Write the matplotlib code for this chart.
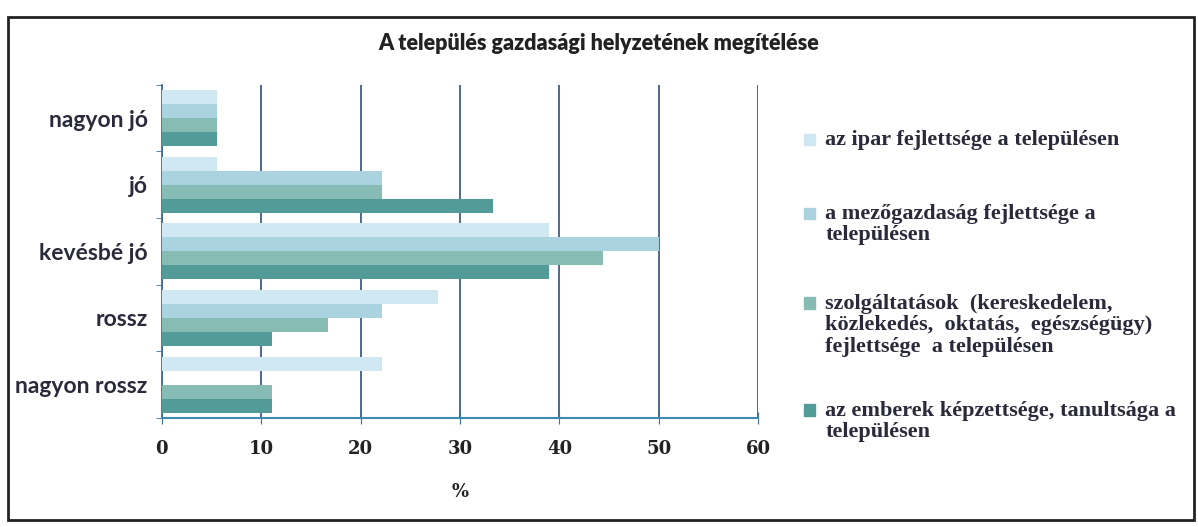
import matplotlib.pyplot as plt
from matplotlib.patches import Rectangle
import numpy as np

# adatok (18 válaszadó, %)
categories = ['nagyon jó', 'jó', 'kevésbé jó', 'rossz', 'nagyon rossz']
series_names = [
    'az ipar fejlettsége a településen',
    'a mezőgazdaság fejlettsége a\ntelepülésen',
    'szolgáltatások  (kereskedelem,\nközlekedés,  oktatás,  egészségügy)\nfejlettsége  a településen',
    'az emberek képzettsége, tanultsága a\ntelepülésen',
]
ipar = [5.6, 5.6, 38.9, 27.8, 22.2]
mezogazdasag = [5.6, 22.2, 50.0, 22.2, 0.0]
szolgaltatasok = [5.6, 22.2, 44.4, 16.7, 11.1]
emberek = [5.6, 33.3, 38.9, 11.1, 11.1]
x_ticks = [0, 10, 20, 30, 40, 50, 60]

colors = ['#d0e8f2', '#aad3df', '#86bcb3', '#529b98']
values = [ipar, mezogazdasag, szolgaltatasok, emberek]

fig = plt.figure(figsize=(11.98, 5.27), dpi=100)
ax = fig.add_axes([0.135, 0.207, 0.498, 0.632])

y = np.arange(len(categories))
h = 0.21
for k, (vals, col) in enumerate(zip(values, colors)):
    ax.barh(y + (k - 1.5) * h, vals, height=h, color=col, edgecolor='none', zorder=3)

ax.set_xlim(0, 60)
ax.set_ylim(len(categories) - 0.5, -0.5)
ax.set_xticks(x_ticks)
ax.set_xticklabels([str(t) for t in x_ticks], family='DejaVu Serif', fontsize=13,
                   fontweight='bold', color='#222222')
ax.set_yticks(y)
ax.set_yticklabels(categories, family='Lato', fontsize=16.5,
                   fontweight='bold', color='#2a2a3a')
ax.set_yticks(np.arange(len(categories) + 1) - 0.5, minor=True)
ax.tick_params(axis='y', which='major', length=0, pad=10)
ax.tick_params(axis='y', which='minor', length=4, color='#3d6f9a')
ax.tick_params(axis='x', length=8, direction='inout', color='#3d6f9a', pad=12)
ax.grid(axis='x', color='#3f5f86', linewidth=1.3, zorder=0)
for side in ['top', 'right']:
    ax.spines[side].set_visible(False)
ax.spines['left'].set_color('#3d6f9a')
ax.spines['bottom'].set_color('#3d8ab0')
ax.spines['left'].set_linewidth(1.3)
ax.spines['bottom'].set_linewidth(1.5)
ax.set_xlabel('%', family='DejaVu Serif', fontsize=13, fontweight='bold',
              color='#222222', labelpad=18)

fig.text(0.5, 0.918, 'A település gazdasági helyzetének megítélése',
         ha='center', va='center', fontsize=15.5, fontweight='heavy',
         family='Lato', color='#222222')

# jelmagyarázat
leg_y = [0.735, 0.595, 0.425, 0.222]
for name, col, ly in zip(series_names, colors, leg_y):
    fig.patches.append(Rectangle((0.671, ly - 0.011), 0.0095, 0.022,
                                 transform=fig.transFigure, color=col))
    fig.text(0.689, ly + 0.018, name, ha='left', va='top', fontsize=16,
             fontweight='bold', family='Liberation Serif', color='#2a2a3a',
             linespacing=1.1)

# keret
fig.patches.append(Rectangle((0.007, 0.013), 0.99, 0.955, transform=fig.transFigure,
                             fill=False, edgecolor='#222222', linewidth=2))

fig.savefig('out.png', dpi=100)
